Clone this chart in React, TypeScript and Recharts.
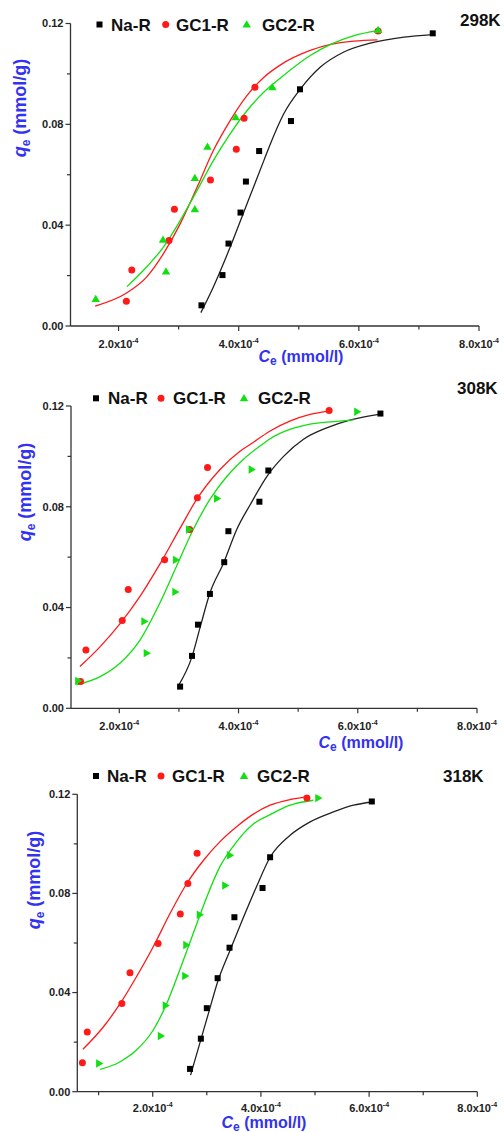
import React from 'react';
import { ComposedChart, XAxis, YAxis, Scatter, Line } from 'recharts';

type Pt = { ce: number; qe: number };
const mk = (arr: number[][]): Pt[] => arr.map(([ce, qe]) => ({ ce, qe }));

// Ce in units of 1e-4 mmol/l, qe in mmol/g
// ---------- 298K ----------
const na298 = mk([[3.38,0.0082],[3.73,0.0202],[3.83,0.0327],[4.03,0.0450],[4.12,0.0573],[4.34,0.0694],[4.87,0.0813],[5.02,0.0939],[7.23,0.1161]]);
const gc1_298 = mk([[2.13,0.0098],[2.22,0.0222],[2.84,0.0339],[2.93,0.0463],[3.53,0.0579],[3.96,0.0701],[4.09,0.0824],[4.27,0.0947],[6.32,0.1170]]);
const gc2_298 = mk([[1.62,0.0107],[2.79,0.0216],[2.74,0.0342],[3.27,0.0463],[3.27,0.0587],[3.48,0.0711],[3.95,0.0828],[4.56,0.0947],[6.32,0.1174]]);
const naFit298 = mk([[3.37,0.0053],[3.58,0.0156],[3.86,0.0314],[4.14,0.0486],[4.42,0.0657],[4.53,0.0724],[4.75,0.0842],[5.03,0.0941],[5.36,0.1027],[5.75,0.1087],[6.19,0.1122],[6.75,0.1146],[7.22,0.1156]]);
const gc1Fit298 = mk([[1.61,0.0079],[2.14,0.0132],[2.47,0.0195],[2.75,0.0288],[3.03,0.0407],[3.31,0.0552],[3.58,0.0697],[3.86,0.0816],[4.14,0.0915],[4.42,0.0987],[4.69,0.1035],[5.19,0.1093],[5.53,0.1117],[5.92,0.1130],[6.31,0.1135]]);
const gc2Fit298 = mk([[2.14,0.0156],[2.47,0.0235],[2.75,0.0314],[3.03,0.0420],[3.31,0.0539],[3.58,0.0657],[3.86,0.0763],[4.14,0.0855],[4.42,0.0928],[4.69,0.0983],[5.19,0.1073],[5.53,0.1117],[5.92,0.1152],[6.31,0.1172]]);

// ---------- 308K ----------
const na308 = mk([[3.02,0.0086],[3.22,0.0208],[3.32,0.0332],[3.52,0.0454],[3.76,0.0580],[3.83,0.0703],[4.35,0.0820],[4.50,0.0944],[6.38,0.1170]]);
const gc1_308 = mk([[1.35,0.0106],[1.44,0.0231],[2.05,0.0349],[2.15,0.0472],[2.76,0.0590],[3.18,0.0710],[3.31,0.0836],[3.48,0.0956],[5.52,0.1182]]);
const gc2_308 = mk([[1.31,0.0109],[2.46,0.0219],[2.42,0.0345],[2.94,0.0462],[2.95,0.0589],[3.17,0.0710],[3.64,0.0833],[4.22,0.0948],[5.99,0.1177]]);
const naFit308 = mk([[2.99,0.0089],[3.22,0.0205],[3.36,0.0325],[3.52,0.0458],[3.75,0.0577],[3.97,0.0710],[4.20,0.0810],[4.48,0.0922],[4.76,0.1001],[5.09,0.1068],[5.49,0.1114],[5.88,0.1145],[6.38,0.1168]]);
const gc1Fit308 = mk([[1.34,0.0166],[1.68,0.0245],[2.01,0.0335],[2.35,0.0445],[2.68,0.0572],[3.02,0.0715],[3.30,0.0830],[3.69,0.0948],[4.03,0.1021],[4.20,0.1048],[4.53,0.1101],[4.87,0.1141],[5.20,0.1167],[5.52,0.1180]]);
const gc2Fit308 = mk([[1.28,0.0093],[1.68,0.0126],[2.01,0.0179],[2.35,0.0272],[2.68,0.0418],[2.96,0.0564],[3.24,0.0710],[3.52,0.0829],[3.81,0.0922],[4.08,0.0988],[4.36,0.1041],[4.53,0.1070],[4.87,0.1108],[5.20,0.1128],[5.60,0.1138],[5.93,0.1145]]);

// ---------- 318K ----------
const na318 = mk([[2.69,0.0092],[2.89,0.0214],[3.00,0.0337],[3.20,0.0458],[3.42,0.0581],[3.51,0.0704],[4.03,0.0822],[4.17,0.0946],[6.05,0.1171]]);
const gc1_318 = mk([[0.70,0.0117],[0.79,0.0241],[1.43,0.0356],[1.58,0.0480],[2.10,0.0598],[2.51,0.0717],[2.65,0.0840],[2.82,0.0962],[4.85,0.1185]]);
const gc2_318 = mk([[1.01,0.0114],[2.15,0.0225],[2.24,0.0348],[2.60,0.0467],[2.62,0.0592],[2.87,0.0714],[3.34,0.0832],[3.43,0.0954],[5.06,0.1185]]);
const naFit318 = mk([[2.70,0.0067],[2.87,0.0195],[3.03,0.0316],[3.21,0.0450],[3.43,0.0571],[3.67,0.0700],[3.92,0.0828],[4.17,0.0946],[4.54,0.1035],[4.91,0.1089],[5.34,0.1129],[5.71,0.1156],[6.05,0.1169]]);
const gc1Fit318 = mk([[0.71,0.0171],[1.09,0.0262],[1.40,0.0356],[1.70,0.0464],[2.01,0.0585],[2.32,0.0719],[2.63,0.0840],[2.94,0.0934],[3.24,0.1008],[3.55,0.1069],[3.86,0.1120],[4.17,0.1156],[4.54,0.1179],[4.85,0.1190]]);
const gc2Fit318 = mk([[1.03,0.0090],[1.40,0.0121],[1.70,0.0168],[2.01,0.0249],[2.26,0.0356],[2.50,0.0491],[2.75,0.0639],[3.00,0.0786],[3.24,0.0907],[3.55,0.1008],[3.86,0.1080],[4.17,0.1118],[4.54,0.1156],[4.97,0.1176]]);

const seriesNames = ['Na-R', 'GC1-R', 'GC2-R'];
const titles = ['298K', '308K', '318K'];
const yTicks = [0, 0.02, 0.04, 0.06, 0.08, 0.1, 0.12];
const xTicksA = [2, 3, 4, 5, 6, 7, 8];
const xTicksB = [1, 2, 3, 4, 5, 6, 7, 8];

const BLUE = '#3232f0';
const RED = '#ff1a1a';
const GREEN = '#10e010';
const AX = '#333';
const FONT = '"Liberation Sans", Arial, sans-serif';

const Square = (p: any) => <rect x={p.cx - 3} y={p.cy - 3} width={6} height={6} fill="#000" />;
const Dot = (p: any) => <circle cx={p.cx} cy={p.cy} r={3.5} fill={RED} />;
const TriUp = (p: any) => (
  <polygon points={`${p.cx},${p.cy - 4.2} ${p.cx - 4.2},${p.cy + 3} ${p.cx + 4.2},${p.cy + 3}`} fill={GREEN} />
);
const TriRight = (p: any) => (
  <polygon points={`${p.cx + 4.2},${p.cy} ${p.cx - 3},${p.cy - 4.2} ${p.cx - 3},${p.cy + 4.2}`} fill={GREEN} />
);

const YTick = (p: any) => {
  const v = p.payload.value;
  const major = Math.abs(v / 0.04 - Math.round(v / 0.04)) < 1e-6;
  return (
    <g>
      <line x1={p.x} x2={p.x - (major ? 5 : 3.5)} y1={p.y} y2={p.y} stroke={AX} strokeWidth={1.2} />
      {major && (
        <text x={p.x - 7} y={p.y + 3.8} textAnchor="end" fontSize={11} fontWeight="bold" fill="#222" fontFamily={FONT}>
          {v.toFixed(2)}
        </text>
      )}
    </g>
  );
};

const XTick = (p: any) => {
  const v = p.payload.value;
  const major = Math.round(v) % 2 === 0;
  const off = p.off ?? 21.5;
  return (
    <g>
      <line x1={p.x} x2={p.x} y1={p.y} y2={p.y + (major ? 5 : 3.5)} stroke={AX} strokeWidth={1.2} />
      {major && (
        <text x={p.x} y={p.y + off} textAnchor="middle" fontSize={11} fontWeight="bold" fill="#222" fontFamily={FONT}>
          {v.toFixed(1) + 'x10'}
          <tspan fontSize={7} dy={-5}>-4</tspan>
        </text>
      )}
    </g>
  );
};

type PanelCfg = {
  top: number; height: number; plotTop: number; plotBottom: number; left: number; right: number;
  xMin: number; xTicks: number[]; tri: any; xTickOff: number;
  na: Pt[]; gc1: Pt[]; gc2: Pt[]; naFit: Pt[]; gc1Fit: Pt[]; gc2Fit: Pt[];
  title: string; titleX: number; titleY: number;
  legY: number; legBase: number; legX: number[]; legTextX: number[];
  yLabX: number; yLabY: number; xLabX: number; xLabY: number;
};

const panels: PanelCfg[] = [
  {
    top: 0, height: 370, plotTop: 23.5, plotBottom: 326, left: 70.5, right: 479, xMin: 1.2, xTicks: xTicksA, tri: TriUp, xTickOff: 21.5,
    na: na298, gc1: gc1_298, gc2: gc2_298, naFit: naFit298, gc1Fit: gc1Fit298, gc2Fit: gc2Fit298,
    title: titles[0], titleX: 460, titleY: 26,
    legY: 24.5, legBase: 30.5, legX: [99.5, 165.7, 246.7], legTextX: [111, 176, 262],
    yLabX: 26, yLabY: 108, xLabX: 301, xLabY: 362,
  },
  {
    top: 370, height: 380, plotTop: 36, plotBottom: 338.3, left: 71, right: 477, xMin: 1.19, xTicks: xTicksA, tri: TriRight, xTickOff: 21.5,
    na: na308, gc1: gc1_308, gc2: gc2_308, naFit: naFit308, gc1Fit: gc1Fit308, gc2Fit: gc2Fit308,
    title: titles[1], titleX: 457, titleY: 24,
    legY: 28.3, legBase: 34, legX: [96, 161, 244], legTextX: [108, 173, 258],
    yLabX: 31, yLabY: 122, xLabX: 361, xLabY: 378,
  },
  {
    top: 750, height: 382, plotTop: 44.3, plotBottom: 341.7, left: 77.3, right: 477.3, xMin: 0.606, xTicks: xTicksB, tri: TriRight, xTickOff: 20,
    na: na318, gc1: gc1_318, gc2: gc2_318, naFit: naFit318, gc1Fit: gc1Fit318, gc2Fit: gc2Fit318,
    title: titles[2], titleX: 443, titleY: 32,
    legY: 26, legBase: 32, legX: [96, 161, 244], legTextX: [107, 172, 257],
    yLabX: 40, yLabY: 130, xLabX: 264, xLabY: 377.5,
  },
];

const Panel = ({ c }: { c: PanelCfg }) => {
  const Tri = c.tri;
  return (
    <div style={{ position: 'absolute', left: 0, top: c.top, width: 504, height: c.height }}>
      <ComposedChart
        width={504}
        height={c.height}
        margin={{ top: c.plotTop, right: 504 - c.right, bottom: 0, left: 0 }}
      >
        <XAxis
          dataKey="ce"
          type="number"
          domain={[c.xMin, 8]}
          allowDataOverflow
          ticks={c.xTicks}
          interval={0}
          height={c.height - c.plotBottom}
          tickSize={0}
          tickMargin={0}
          tick={<XTick off={c.xTickOff} />}
          axisLine={{ stroke: AX, strokeWidth: 1.3 }}
          tickLine={false}
        />
        <YAxis
          type="number"
          domain={[0, 0.12]}
          allowDataOverflow
          ticks={yTicks}
          interval={0}
          width={c.left}
          tickSize={0}
          tickMargin={0}
          tick={<YTick />}
          axisLine={{ stroke: AX, strokeWidth: 1.3 }}
          tickLine={false}
        />
        <Scatter name={seriesNames[0]} data={c.na} dataKey="qe" shape={Square} isAnimationActive={false} />
        <Scatter name={seriesNames[1]} data={c.gc1} dataKey="qe" shape={Dot} isAnimationActive={false} />
        <Scatter name={seriesNames[2]} data={c.gc2} dataKey="qe" shape={Tri} isAnimationActive={false} />
        <Line data={c.naFit} dataKey="qe" type="monotone" stroke="#222" strokeWidth={1.3} dot={false} activeDot={false} isAnimationActive={false} />
        <Line data={c.gc1Fit} dataKey="qe" type="monotone" stroke={RED} strokeWidth={1.3} dot={false} activeDot={false} isAnimationActive={false} />
        <Line data={c.gc2Fit} dataKey="qe" type="monotone" stroke={GREEN} strokeWidth={1.3} dot={false} activeDot={false} isAnimationActive={false} />
      </ComposedChart>
      <svg width={504} height={c.height} style={{ position: 'absolute', left: 0, top: 0, pointerEvents: 'none', overflow: 'visible' }}>
        <text x={c.titleX} y={c.titleY} fontSize={17} fontWeight="bold" fill="#111" fontFamily={FONT}>{c.title}</text>
        <Square cx={c.legX[0]} cy={c.legY} />
        <Dot cx={c.legX[1]} cy={c.legY} />
        <TriUp cx={c.legX[2]} cy={c.legY} />
        {seriesNames.map((n, i) => (
          <text key={n} x={c.legTextX[i]} y={c.legBase} fontSize={17} fontWeight="bold" fill="#111" fontFamily={FONT}>{n}</text>
        ))}
        <text
          transform={`translate(${c.yLabX},${c.yLabY}) rotate(-90)`}
          textAnchor="middle"
          fontSize={18}
          fontWeight="bold"
          fill={BLUE}
          fontFamily={FONT}
        >
          <tspan fontStyle="italic">q</tspan>
          <tspan fontSize={12} dy={4}>e</tspan>
          <tspan dy={-4}> (mmol/g)</tspan>
        </text>
        <text x={c.xLabX} y={c.xLabY} textAnchor="middle" fontSize={16} fontWeight="bold" fill={BLUE} fontFamily={FONT}>
          <tspan fontStyle="italic">C</tspan>
          <tspan fontSize={12} dy={3}>e</tspan>
          <tspan dy={-3}> (mmol/l)</tspan>
        </text>
      </svg>
    </div>
  );
}

export default function App() {
  return (
    <div style={{ position: 'absolute', left: 0, top: 0, width: 504, height: 1132, background: '#fff', overflow: 'hidden' }}>
      <Panel c={panels[0]} />
      <Panel c={panels[1]} />
      <div style={{ position: 'absolute', left: 0, top: 753, width: 504, height: 14, background: '#fff' }} />
      <Panel c={panels[2]} />
    </div>
  );
}
